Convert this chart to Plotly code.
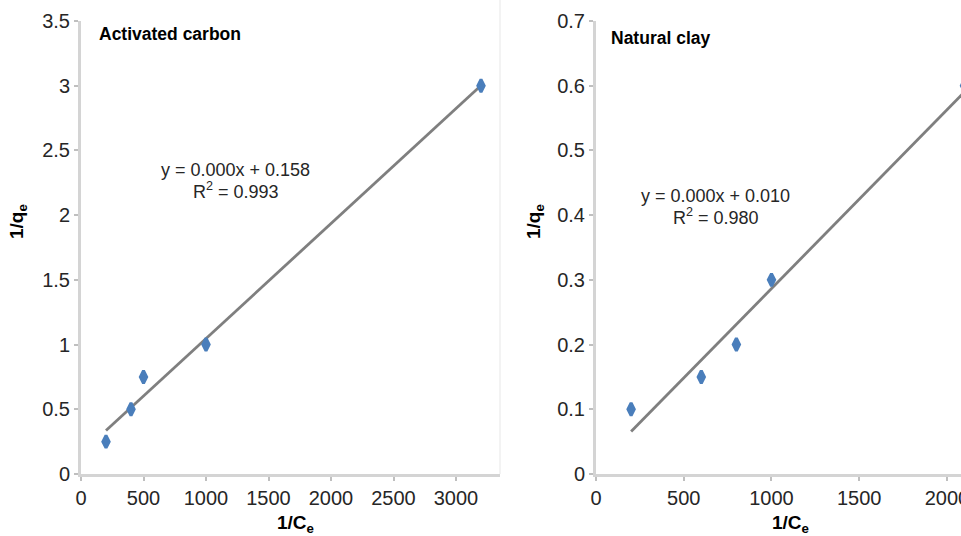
import numpy as np
import plotly.graph_objects as go

# ---- data ----
ac_x = [200, 400, 500, 1000, 3200]
ac_y = [0.25, 0.5, 0.75, 1.0, 3.0]
clay_x = [200, 600, 800, 1000, 2100]
clay_y = [0.1, 0.15, 0.2, 0.3, 0.6]

panel_titles = ["Activated carbon", "Natural clay"]
eq_lines = ["y = 0.000x + 0.158", "y = 0.000x + 0.010"]
r2_lines = ["R<sup>2</sup> = 0.993", "R<sup>2</sup> = 0.980"]

W, H = 961, 536
def px(x):
    return x / W
def py(y):
    return 1 - y / H

MARK = "#4a7ebb"
TREND = "#7f7f7f"
AXC = "#d4d4d4"
TXT = "#262626"
FONT = "Liberation Sans, Arial, sans-serif"

fig = go.Figure()

def add_panel(xs, ys, xa, ya):
    xs = np.array(xs, float)
    ys = np.array(ys, float)
    m, b = np.polyfit(xs, ys, 1)
    lx = np.array([xs.min(), xs.max()])
    fig.add_trace(go.Scatter(x=lx, y=m * lx + b, mode="lines",
                             line=dict(color=TREND, width=2.8),
                             xaxis=xa, yaxis=ya, showlegend=False, hoverinfo="skip"))
    fig.add_trace(go.Scatter(x=xs, y=ys, mode="markers",
                             marker=dict(symbol="diamond-tall", size=9, color=MARK,
                                         line=dict(color=MARK, width=3)),
                             xaxis=xa, yaxis=ya, showlegend=False, cliponaxis=True))

add_panel(ac_x, ac_y, "x", "y")
add_panel(clay_x, clay_y, "x2", "y2")

ydom = [py(474), py(21)]
common_ax = dict(showgrid=False, zeroline=False, showline=True, linecolor=AXC, linewidth=3,
                 ticks="outside", ticklen=4, tickwidth=1.5, tickcolor="#bfbfbf",
                 automargin=False, ticklabeloverflow="allow",
                 tickfont=dict(family=FONT, size=20, color=TXT))

fig.update_layout(
    template="none",
    width=W, height=H, margin=dict(l=0, r=0, t=0, b=0, pad=0, autoexpand=False),
    paper_bgcolor="white", plot_bgcolor="white",
    xaxis=dict(domain=[px(81), px(500)], range=[0, 3352], dtick=500, tick0=0,
               anchor="y", **common_ax),
    yaxis=dict(domain=ydom, range=[0, 3.5], dtick=0.5, tick0=0, anchor="x", **common_ax),
    xaxis2=dict(domain=[px(596), 1.0], range=[0, 2080], dtick=500, tick0=0,
                anchor="y2", **common_ax),
    yaxis2=dict(domain=ydom, range=[0, 0.7], dtick=0.1, tick0=0, anchor="x2", **common_ax),
)

ann = []
# panel labels
ann.append(dict(x=px(97), y=py(34), text="<b>" + panel_titles[0] + "</b>", xanchor="left"))
ann.append(dict(x=px(609), y=py(38), text="<b>" + panel_titles[1] + "</b>", xanchor="left"))
for a in ann:
    a.update(font=dict(family=FONT, size=17.5, color="black"), yanchor="middle",
             showarrow=False, xref="paper", yref="paper")

eqs = [
    (235, 170, eq_lines[0]), (236, 190, r2_lines[0]),
    (715, 196, eq_lines[1]), (716, 216, r2_lines[1]),
]
for x, y, t in eqs:
    ann.append(dict(x=px(x), y=py(y), text=t, xanchor="center", yanchor="middle",
                    showarrow=False, xref="paper", yref="paper",
                    font=dict(family=FONT, size=18, color=TXT)))

# axis titles
titles = [
    (295, 524, "<b>1/C<sub>e</sub></b>", 0),
    (790, 524, "<b>1/C<sub>e</sub></b>", 0),
    (18, 222, "<b>1/q<sub>e</sub></b>", -90),
    (535, 222, "<b>1/q<sub>e</sub></b>", -90),
]
for x, y, t, ang in titles:
    ann.append(dict(x=px(x), y=py(y), text=t, xanchor="center", yanchor="middle",
                    textangle=ang, showarrow=False, xref="paper", yref="paper",
                    font=dict(family=FONT, size=19, color="black")))

fig.update_layout(annotations=ann)

# faint right border of the left chart
fig.add_shape(type="line", xref="paper", yref="paper",
              x0=px(500), x1=px(500), y0=py(474), y1=py(0),
              line=dict(color="#efefef", width=1.5))

fig.write_html("out.html")
